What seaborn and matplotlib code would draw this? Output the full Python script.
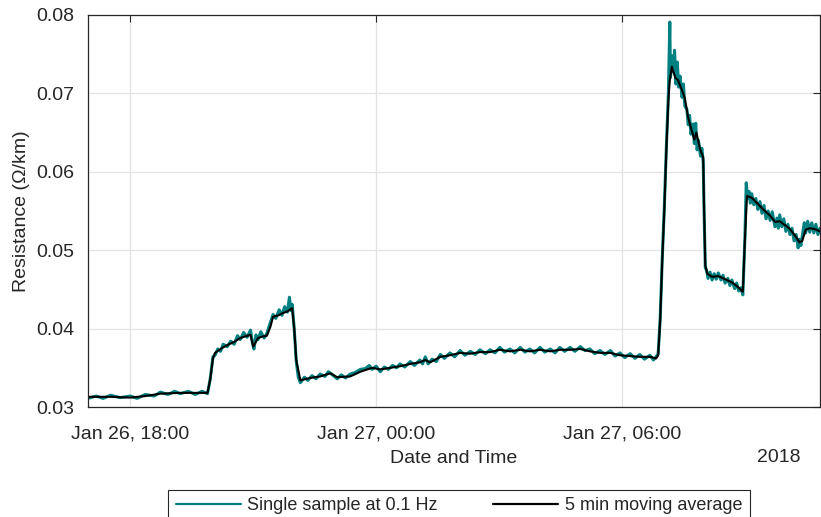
import matplotlib
matplotlib.use("Agg")
import matplotlib.pyplot as plt
import matplotlib.dates as mdates
import pandas as pd
import seaborn as sns

# ---- data ----
avg_times = [
    "01-26 16:58", "01-26 17:31", "01-26 18:00", "01-26 18:22", "01-26 18:44", "01-26 19:13",
    "01-26 19:42", "01-26 19:53", "01-26 19:57", "01-26 20:01", "01-26 20:04", "01-26 20:14",
    "01-26 20:22", "01-26 20:32", "01-26 20:41", "01-26 20:48", "01-26 20:56", "01-26 21:00",
    "01-26 21:07", "01-26 21:14", "01-26 21:20", "01-26 21:25", "01-26 21:29", "01-26 21:37",
    "01-26 21:44", "01-26 21:50", "01-26 21:57", "01-26 22:00", "01-26 22:03", "01-26 22:09",
    "01-26 22:23", "01-26 22:38", "01-26 22:53", "01-26 23:03", "01-26 23:22", "01-26 23:37",
    "01-26 23:54", "01-27 00:06", "01-27 00:21", "01-27 00:35", "01-27 00:50", "01-27 01:04",
    "01-27 01:12", "01-27 01:19", "01-27 01:34", "01-27 01:48", "01-27 02:03", "01-27 02:18",
    "01-27 02:32", "01-27 02:47", "01-27 03:01", "01-27 03:16", "01-27 03:31", "01-27 03:45",
    "01-27 04:00", "01-27 04:15", "01-27 04:29", "01-27 04:44", "01-27 04:59", "01-27 05:13",
    "01-27 05:28", "01-27 05:43", "01-27 05:57", "01-27 06:12", "01-27 06:26", "01-27 06:41",
    "01-27 06:50", "01-27 06:53", "01-27 06:56", "01-27 06:59", "01-27 07:02", "01-27 07:05",
    "01-27 07:08", "01-27 07:10", "01-27 07:13", "01-27 07:18", "01-27 07:22", "01-27 07:28",
    "01-27 07:32", "01-27 07:37", "01-27 07:41", "01-27 07:46", "01-27 07:49", "01-27 07:54",
    "01-27 07:59", "01-27 08:00", "01-27 08:02", "01-27 08:05", "01-27 08:12", "01-27 08:21",
    "01-27 08:31", "01-27 08:41", "01-27 08:50", "01-27 08:57", "01-27 09:00", "01-27 09:03",
    "01-27 09:10", "01-27 09:19", "01-27 09:28", "01-27 09:37", "01-27 09:44", "01-27 09:51",
    "01-27 09:57", "01-27 10:05", "01-27 10:14", "01-27 10:20", "01-27 10:24", "01-27 10:29",
    "01-27 10:35", "01-27 10:42", "01-27 10:50",
]
avg_values = [
    0.0313, 0.0313, 0.0312, 0.0314, 0.0317, 0.0318,
    0.0318, 0.0318, 0.0335, 0.0362, 0.0369, 0.0375,
    0.0379, 0.0383, 0.0388, 0.0390, 0.0392, 0.0377,
    0.0388, 0.0390, 0.0391, 0.0402, 0.0415, 0.0417,
    0.0420, 0.0422, 0.0426, 0.0400, 0.0360, 0.0334,
    0.0337, 0.0339, 0.0343, 0.0338, 0.0339, 0.0345,
    0.0350, 0.0348, 0.0350, 0.0352, 0.0355, 0.0357,
    0.0360, 0.0357, 0.0364, 0.0366, 0.0369, 0.0368,
    0.0370, 0.0370, 0.0373, 0.0371, 0.0373, 0.0371,
    0.0373, 0.0371, 0.0373, 0.0373, 0.0374, 0.0371,
    0.0369, 0.0369, 0.0366, 0.0365, 0.0364, 0.0364,
    0.0362, 0.0366, 0.0411, 0.0488, 0.0551, 0.0628,
    0.0692, 0.0717, 0.0734, 0.0720, 0.0717, 0.0704,
    0.0694, 0.0669, 0.0656, 0.0641, 0.0650, 0.0630,
    0.0618, 0.0564, 0.0481, 0.0470, 0.0466, 0.0467,
    0.0463, 0.0459, 0.0453, 0.0447, 0.0513, 0.0569,
    0.0567, 0.0559, 0.0551, 0.0544, 0.0536, 0.0537,
    0.0533, 0.0528, 0.0518, 0.0510, 0.0512, 0.0526,
    0.0528, 0.0527, 0.0524,
]

raw_times = [
    "01-26 16:58", "01-26 17:10", "01-26 17:20", "01-26 17:31", "01-26 17:45", "01-26 18:00",
    "01-26 18:10", "01-26 18:22", "01-26 18:35", "01-26 18:44", "01-26 18:55", "01-26 19:05",
    "01-26 19:13", "01-26 19:25", "01-26 19:35", "01-26 19:45", "01-26 19:53", "01-26 19:57",
    "01-26 20:01", "01-26 20:04", "01-26 20:08", "01-26 20:12", "01-26 20:16", "01-26 20:22",
    "01-26 20:27", "01-26 20:32", "01-26 20:37", "01-26 20:41", "01-26 20:46", "01-26 20:51",
    "01-26 20:56", "01-26 20:59", "01-26 21:01", "01-26 21:04", "01-26 21:07", "01-26 21:11",
    "01-26 21:16", "01-26 21:20", "01-26 21:24", "01-26 21:29", "01-26 21:33", "01-26 21:38",
    "01-26 21:42", "01-26 21:46", "01-26 21:50", "01-26 21:53", "01-26 21:55", "01-26 21:57",
    "01-26 22:00", "01-26 22:03", "01-26 22:06", "01-26 22:09", "01-26 22:15", "01-26 22:20",
    "01-26 22:26", "01-26 22:32", "01-26 22:38", "01-26 22:45", "01-26 22:50", "01-26 22:56",
    "01-26 23:03", "01-26 23:09", "01-26 23:15", "01-26 23:22", "01-26 23:29", "01-26 23:37",
    "01-26 23:44", "01-26 23:50", "01-26 23:54", "01-27 00:00", "01-27 00:06", "01-27 00:12",
    "01-27 00:18", "01-27 00:24", "01-27 00:30", "01-27 00:35", "01-27 00:42", "01-27 00:50",
    "01-27 00:56", "01-27 01:04", "01-27 01:08", "01-27 01:12", "01-27 01:16", "01-27 01:22",
    "01-27 01:28", "01-27 01:34", "01-27 01:40", "01-27 01:48", "01-27 01:55", "01-27 02:03",
    "01-27 02:10", "01-27 02:18", "01-27 02:25", "01-27 02:32", "01-27 02:40", "01-27 02:47",
    "01-27 02:54", "01-27 03:01", "01-27 03:08", "01-27 03:16", "01-27 03:23", "01-27 03:31",
    "01-27 03:38", "01-27 03:45", "01-27 03:52", "01-27 04:00", "01-27 04:07", "01-27 04:15",
    "01-27 04:22", "01-27 04:29", "01-27 04:36", "01-27 04:44", "01-27 04:51", "01-27 04:59",
    "01-27 05:06", "01-27 05:13", "01-27 05:20", "01-27 05:28", "01-27 05:35", "01-27 05:43",
    "01-27 05:50", "01-27 05:57", "01-27 06:04", "01-27 06:12", "01-27 06:19", "01-27 06:26",
    "01-27 06:33", "01-27 06:41", "01-27 06:46", "01-27 06:50", "01-27 06:53", "01-27 06:56",
    "01-27 06:59", "01-27 07:02", "01-27 07:05", "01-27 07:08", "01-27 07:10", "01-27 07:11",
    "01-27 07:13", "01-27 07:15", "01-27 07:17", "01-27 07:19", "01-27 07:21", "01-27 07:23",
    "01-27 07:25", "01-27 07:28", "01-27 07:30", "01-27 07:32", "01-27 07:35", "01-27 07:37",
    "01-27 07:39", "01-27 07:41", "01-27 07:44", "01-27 07:46", "01-27 07:48", "01-27 07:50",
    "01-27 07:52", "01-27 07:55", "01-27 07:57", "01-27 07:59", "01-27 08:00", "01-27 08:02",
    "01-27 08:04", "01-27 08:06", "01-27 08:09", "01-27 08:12", "01-27 08:15", "01-27 08:18",
    "01-27 08:21", "01-27 08:25", "01-27 08:28", "01-27 08:31", "01-27 08:35", "01-27 08:38",
    "01-27 08:41", "01-27 08:45", "01-27 08:48", "01-27 08:51", "01-27 08:54", "01-27 08:57",
    "01-27 09:00", "01-27 09:02", "01-27 09:04", "01-27 09:06", "01-27 09:08", "01-27 09:10",
    "01-27 09:13", "01-27 09:16", "01-27 09:19", "01-27 09:22", "01-27 09:25", "01-27 09:28",
    "01-27 09:31", "01-27 09:34", "01-27 09:37", "01-27 09:40", "01-27 09:44", "01-27 09:47",
    "01-27 09:49", "01-27 09:51", "01-27 09:54", "01-27 09:57", "01-27 10:00", "01-27 10:03",
    "01-27 10:06", "01-27 10:09", "01-27 10:12", "01-27 10:15", "01-27 10:18", "01-27 10:20",
    "01-27 10:22", "01-27 10:24", "01-27 10:27", "01-27 10:29", "01-27 10:32", "01-27 10:35",
    "01-27 10:38", "01-27 10:41", "01-27 10:44", "01-27 10:47", "01-27 10:50",
]
raw_values = [
    0.0311, 0.0314, 0.0311, 0.0315, 0.0312, 0.0314,
    0.0311, 0.0316, 0.0314, 0.0319, 0.0316, 0.0320,
    0.0317, 0.0320, 0.0316, 0.0320, 0.0317, 0.0336,
    0.0364, 0.0366, 0.0374, 0.0371, 0.0380, 0.0377,
    0.0384, 0.0380, 0.0391, 0.0386, 0.0395, 0.0389,
    0.0398, 0.0381, 0.0374, 0.0392, 0.0386, 0.0396,
    0.0388, 0.0394, 0.0405, 0.0418, 0.0413, 0.0424,
    0.0417, 0.0428, 0.0421, 0.0440, 0.0423, 0.0431,
    0.0400, 0.0358, 0.0338, 0.0331, 0.0338, 0.0334,
    0.0340, 0.0336, 0.0342, 0.0339, 0.0345, 0.0341,
    0.0336, 0.0341, 0.0337, 0.0342, 0.0344, 0.0348,
    0.0349, 0.0353, 0.0348, 0.0352, 0.0345, 0.0351,
    0.0348, 0.0353, 0.0350, 0.0355, 0.0351, 0.0358,
    0.0353, 0.0360, 0.0355, 0.0364, 0.0355, 0.0361,
    0.0358, 0.0367, 0.0362, 0.0369, 0.0364, 0.0372,
    0.0366, 0.0371, 0.0367, 0.0373, 0.0368, 0.0373,
    0.0369, 0.0376, 0.0370, 0.0374, 0.0369, 0.0376,
    0.0370, 0.0374, 0.0369, 0.0376, 0.0370, 0.0374,
    0.0369, 0.0376, 0.0371, 0.0376, 0.0371, 0.0377,
    0.0372, 0.0374, 0.0368, 0.0372, 0.0367, 0.0372,
    0.0365, 0.0369, 0.0363, 0.0368, 0.0362, 0.0367,
    0.0361, 0.0366, 0.0360, 0.0364, 0.0368, 0.0414,
    0.0490, 0.0555, 0.0632, 0.0700, 0.0791, 0.0720,
    0.0748, 0.0728, 0.0755, 0.0712, 0.0740, 0.0708,
    0.0722, 0.0695, 0.0712, 0.0684, 0.0680, 0.0660,
    0.0672, 0.0648, 0.0661, 0.0636, 0.0662, 0.0628,
    0.0640, 0.0620, 0.0630, 0.0612, 0.0560, 0.0478,
    0.0474, 0.0464, 0.0472, 0.0462, 0.0470, 0.0463,
    0.0471, 0.0462, 0.0468, 0.0458, 0.0464, 0.0455,
    0.0462, 0.0451, 0.0458, 0.0448, 0.0452, 0.0443,
    0.0515, 0.0586, 0.0566, 0.0575, 0.0560, 0.0572,
    0.0558, 0.0566, 0.0552, 0.0562, 0.0547, 0.0557,
    0.0540, 0.0550, 0.0538, 0.0549, 0.0530, 0.0541,
    0.0528, 0.0545, 0.0530, 0.0540, 0.0524, 0.0533,
    0.0520, 0.0528, 0.0512, 0.0520, 0.0503, 0.0514,
    0.0506, 0.0518, 0.0535, 0.0522, 0.0537, 0.0523,
    0.0535, 0.0522, 0.0533, 0.0520, 0.0528,
]

series_labels = ["Single sample at 0.1 Hz", "5 min moving average"]
y_ticks = [0.03, 0.04, 0.05, 0.06, 0.07, 0.08]
x_label = "Date and Time"
y_label = "Resistance (Ω/km)"
year_label = "2018"

# ---- build frames ----
df_raw = pd.DataFrame({"time": pd.to_datetime(["2018-" + t for t in raw_times]),
                       "value": raw_values})
df_avg = pd.DataFrame({"time": pd.to_datetime(["2018-" + t for t in avg_times]),
                       "value": avg_values})

sns.set_style("white")
plt.rcParams["font.family"] = ["Liberation Sans", "DejaVu Sans"]

dark = "#262626"
teal = "#008080"

fig = plt.figure(figsize=(8.21, 5.17), dpi=100)
ax = fig.add_axes([88 / 821, 110 / 517, 732 / 821, 392 / 517])

sns.lineplot(data=df_raw, x="time", y="value", ax=ax, color=teal, linewidth=2.2,
             label=series_labels[0], estimator=None)
sns.lineplot(data=df_avg, x="time", y="value", ax=ax, color="black", linewidth=1.5,
             label=series_labels[1], estimator=None)

ax.set_xlim(pd.Timestamp("2018-01-26 16:58"), pd.Timestamp("2018-01-27 10:50"))
ax.set_ylim(0.03, 0.08)
ax.set_yticks(y_ticks)
ax.yaxis.set_major_formatter(matplotlib.ticker.FormatStrFormatter("%.2f"))
ax.xaxis.set_major_locator(mdates.HourLocator(byhour=[0, 6, 12, 18]))
ax.xaxis.set_major_formatter(mdates.DateFormatter("%b %d, %H:%M"))

ax.grid(True, color="#e3e3e3", linewidth=0.9)
ax.set_axisbelow(True)
for s in ax.spines.values():
    s.set_visible(True)
    s.set_color(dark)
    s.set_linewidth(0.9)
ax.tick_params(axis="both", which="major", direction="in", length=5, width=0.8,
               color=dark, labelcolor=dark, labelsize=14, top=True, right=True)
ax.tick_params(axis="y", pad=10)
ax.tick_params(axis="x", pad=13)

ax.set_xlabel(x_label, fontsize=14, color=dark, labelpad=6)
ax.set_ylabel(y_label, fontsize=14, color=dark, labelpad=4)
fig.text(800 / 821, 1 - 457 / 517, year_label, fontsize=14, color=dark,
         ha="right", va="center")

handles, labels = ax.get_legend_handles_labels()
ax.get_legend().remove()
leg = fig.legend(handles, labels, loc="upper center", ncol=2,
                 bbox_to_anchor=(459 / 821, 1 - 490 / 517), fontsize=13,
                 frameon=True, fancybox=False, edgecolor=dark, framealpha=1,
                 handlelength=3.6, handletextpad=0.35, columnspacing=3.1,
                 borderpad=0.4, borderaxespad=0)
leg.get_frame().set_linewidth(0.8)
for line in leg.get_lines():
    line.set_linewidth(1.6)

fig.savefig("out.png", dpi=100)
